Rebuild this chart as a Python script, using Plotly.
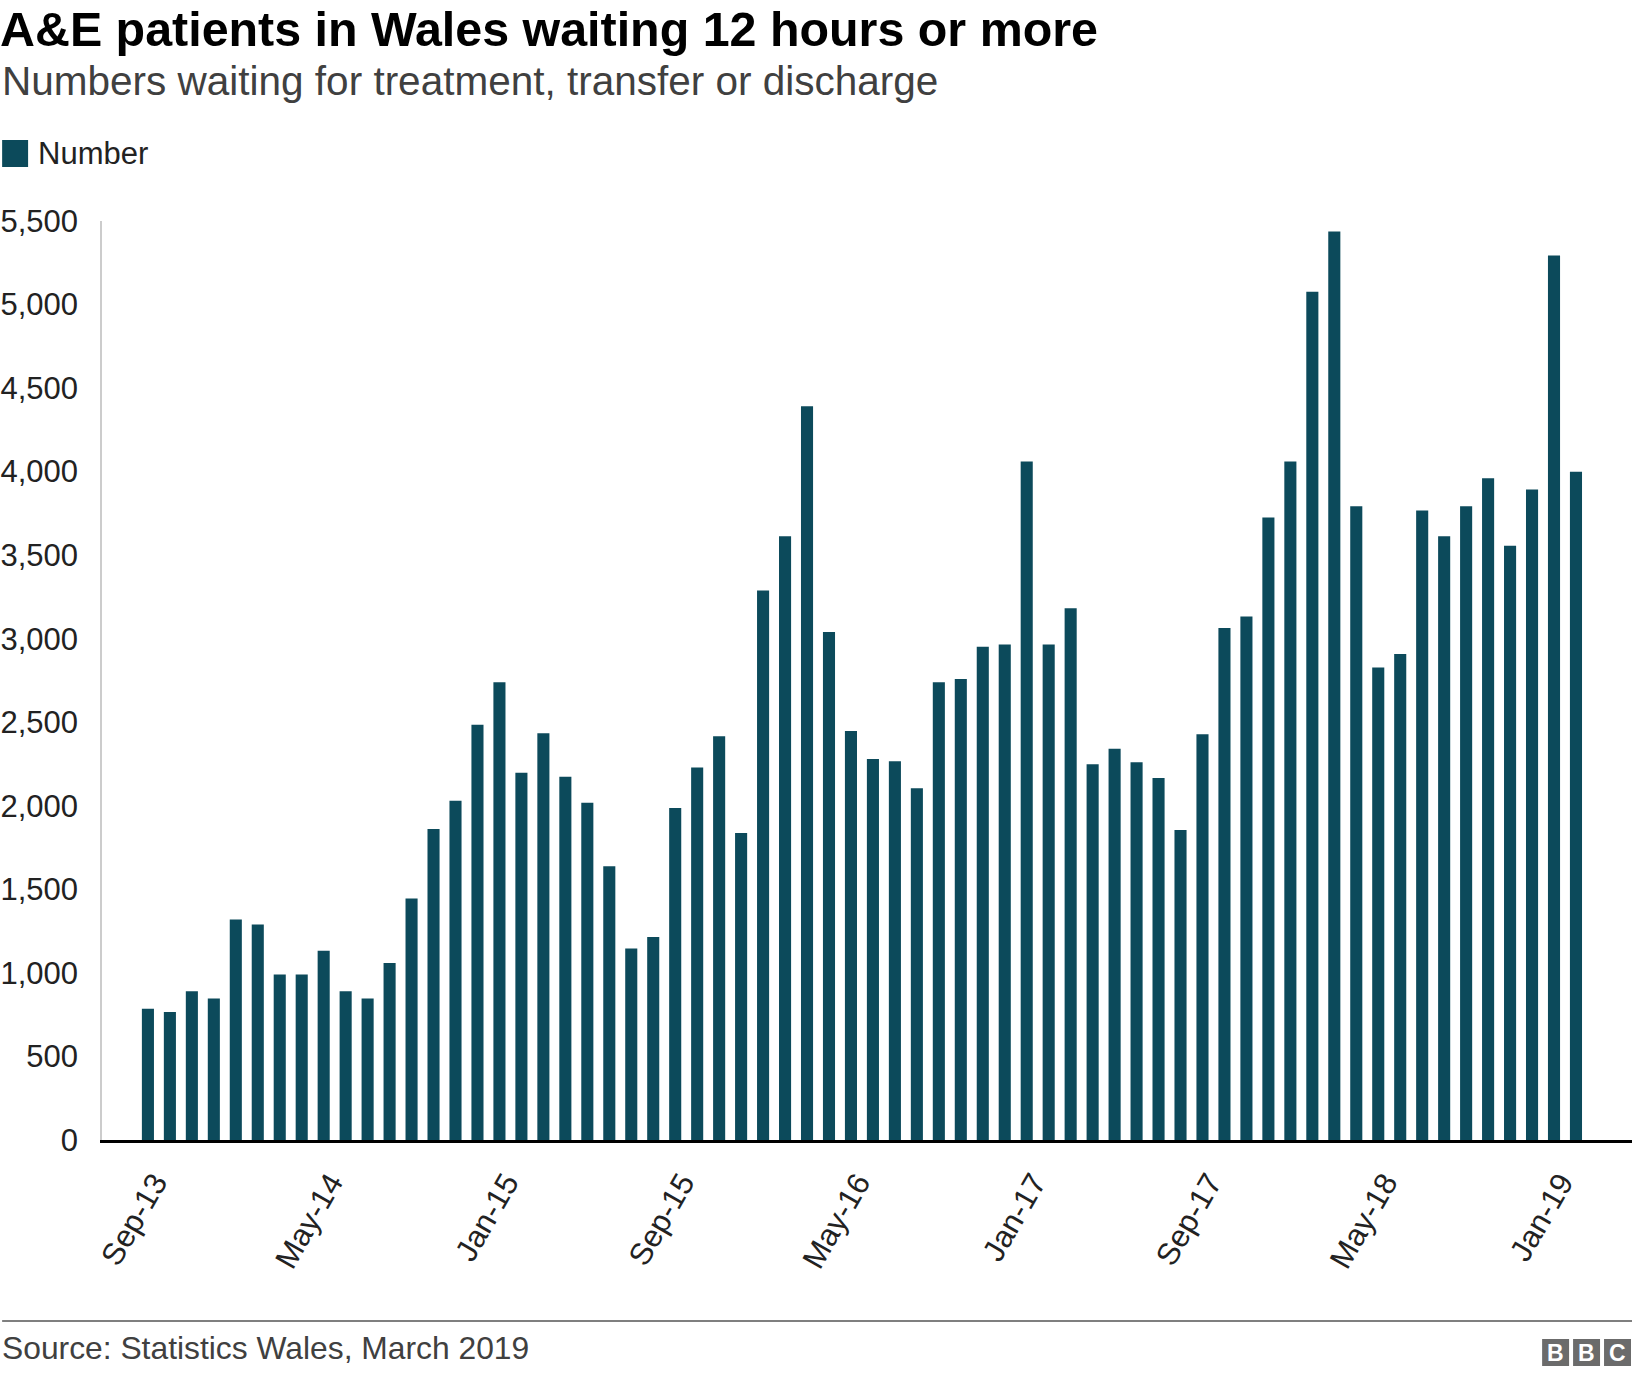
import plotly.graph_objects as go

# Monthly A&E patients in Wales waiting 12 hours or more (Sep 2013 - Feb 2019)
months = [
    "Sep-13", "Oct-13", "Nov-13", "Dec-13",
    "Jan-14", "Feb-14", "Mar-14", "Apr-14", "May-14", "Jun-14",
    "Jul-14", "Aug-14", "Sep-14", "Oct-14", "Nov-14", "Dec-14",
    "Jan-15", "Feb-15", "Mar-15", "Apr-15", "May-15", "Jun-15",
    "Jul-15", "Aug-15", "Sep-15", "Oct-15", "Nov-15", "Dec-15",
    "Jan-16", "Feb-16", "Mar-16", "Apr-16", "May-16", "Jun-16",
    "Jul-16", "Aug-16", "Sep-16", "Oct-16", "Nov-16", "Dec-16",
    "Jan-17", "Feb-17", "Mar-17", "Apr-17", "May-17", "Jun-17",
    "Jul-17", "Aug-17", "Sep-17", "Oct-17", "Nov-17", "Dec-17",
    "Jan-18", "Feb-18", "Mar-18", "Apr-18", "May-18", "Jun-18",
    "Jul-18", "Aug-18", "Sep-18", "Oct-18", "Nov-18", "Dec-18",
    "Jan-19", "Feb-19",
]

patients = [
    785, 766, 890, 847,
    1320, 1289, 990, 990, 1133, 890, 847, 1059, 1445, 1862, 2030, 2485,
    2740, 2198, 2435, 2174, 2018, 1638, 1146, 1215, 1987, 2230, 2417, 1837,
    3289, 3613, 4391, 3040, 2448, 2280, 2267, 2105, 2740, 2759, 2952, 2965,
    4061, 2965, 3183, 2249, 2342, 2261, 2167, 1856, 2429, 3064, 3133, 3725,
    4061, 5076, 5437, 3793, 2828, 2909, 3768, 3613, 3793, 3961, 3556, 3893,
    5294, 3999,
]

x_ticks = ["Sep-13", "May-14", "Jan-15", "Sep-15", "May-16",
           "Jan-17", "Sep-17", "May-18", "Jan-19"]
y_ticks = [0, 500, 1000, 1500, 2000, 2500, 3000, 3500, 4000, 4500, 5000, 5500]

BAR_COLOR = "#0c4a5b"
FONT = "Liberation Sans, Arial, sans-serif"

W, H = 1632, 1376
L, R, T, B = 100, 0, 221, 236


def px_x(x):
    # pixel column -> paper x
    return (x - L) / (W - L - R)


def px_y(y):
    # pixel row -> paper y
    return (H - B - y) / (H - T - B)


fig = go.Figure(go.Bar(
    x=months,
    y=patients,
    name="Number",
    marker=dict(color=BAR_COLOR, line=dict(width=0)),
    showlegend=False,
))

fig.update_layout(
    width=W,
    height=H,
    margin=dict(l=L, r=R, t=T, b=B, pad=0),
    paper_bgcolor="white",
    plot_bgcolor="white",
    bargap=0.45,
    font=dict(family=FONT, size=31, color="#222222"),
    title=dict(
        text="A&E patients in Wales waiting 12 hours or more",
        font=dict(family=FONT, size=48.4, color="#000000", weight="bold"),
        x=0, xref="container", xanchor="left",
        y=1 - 29 / H, yref="container", yanchor="middle",
    ),
)

fig.update_xaxes(
    type="category",
    range=[-2.09, 67.55],
    tickmode="array",
    tickvals=x_ticks,
    ticktext=x_ticks,
    tickangle=-60,
    tickfont=dict(size=31, color="#222222"),
    ticks="",
    ticklabelstandoff=9,
    ticklabelshift=7,
    showgrid=False,
    zeroline=False,
    showline=True,
    linecolor="#000000",
    linewidth=3,
)

fig.update_yaxes(
    range=[0, 5500],
    tickmode="array",
    tickvals=y_ticks,
    tickformat=",",
    tickfont=dict(size=31, color="#222222"),
    ticks="",
    ticklabelstandoff=16,
    showgrid=False,
    zeroline=False,
    showline=True,
    linecolor="#cccccc",
    linewidth=1.5,
)

annotations = [
    dict(text="Numbers waiting for treatment, transfer or discharge",
         x=px_x(-2), y=px_y(81), xanchor="left", yanchor="middle",
         font=dict(size=40.5, color="#404040")),
    dict(text="Number",
         x=px_x(34), y=px_y(154), xanchor="left", yanchor="middle",
         font=dict(size=31, color="#222222")),
    dict(text="Source: Statistics Wales, March 2019",
         x=px_x(-2), y=px_y(1348), xanchor="left", yanchor="middle",
         font=dict(size=31.8, color="#404040")),
]

shapes = [
    # legend swatch
    dict(type="rect", xref="paper", yref="paper",
         x0=px_x(0), x1=px_x(26), y0=px_y(167), y1=px_y(140),
         fillcolor=BAR_COLOR, line=dict(width=0)),
    # footer rule
    dict(type="line", xref="paper", yref="paper",
         x0=px_x(0), x1=px_x(W), y0=px_y(1321), y1=px_y(1321),
         line=dict(color="#7f7f7f", width=2)),
]

# BBC logo blocks
for i, letter in enumerate("BBC"):
    x0 = 1542 + i * 31
    shapes.append(dict(type="rect", xref="paper", yref="paper",
                       x0=px_x(x0), x1=px_x(x0 + 27),
                       y0=px_y(1366), y1=px_y(1339),
                       fillcolor="#6b6b6b", line=dict(width=0)))
    annotations.append(dict(text=letter, x=px_x(x0 + 13.5), y=px_y(1352.5),
                            xanchor="center", yanchor="middle",
                            font=dict(size=23, color="white", weight="bold")))

for a in annotations:
    a.update(xref="paper", yref="paper", showarrow=False)

fig.update_layout(annotations=annotations, shapes=shapes)

# drop the browser's default body margin so the chart fills the window
fig.write_html("out.html",
               config={"displayModeBar": False},
               post_script="document.body.style.margin='0';"
                           "document.body.style.overflow='hidden';")
